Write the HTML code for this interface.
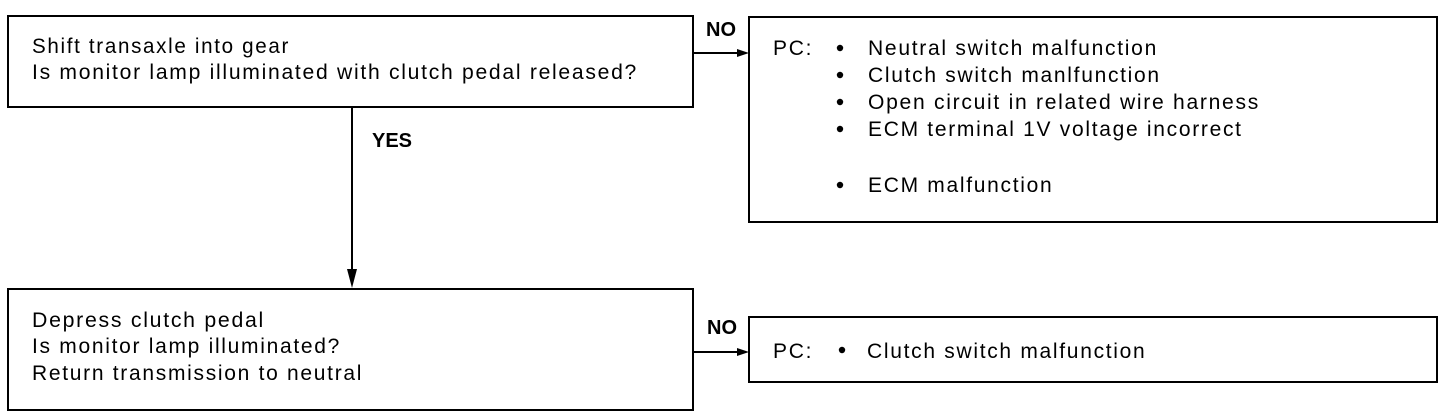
<!DOCTYPE html>
<html><head><meta charset="utf-8"><style>
html,body{margin:0;padding:0;background:#fff;}
svg{display:block;}
text{font-family:"Liberation Sans",Arial,sans-serif;font-size:21px;fill:#000;letter-spacing:1.7px;}
.b{font-weight:bold;font-size:20px;letter-spacing:0;}
</style></head><body>
<svg width="1456" height="418" viewBox="0 0 1456 418" xmlns="http://www.w3.org/2000/svg">
<g fill="none" stroke="#000" stroke-width="2">
<rect x="8" y="16" width="685" height="91"/>
<rect x="749" y="17" width="688" height="205"/>
<rect x="8" y="289" width="685" height="121"/>
<rect x="749" y="317" width="688" height="65"/>
<line x1="693" y1="53" x2="742" y2="53"/>
<line x1="693" y1="352" x2="742" y2="352"/>
<line x1="352" y1="107" x2="352" y2="272"/>
</g>
<polygon points="737,49 749,53 737,57" fill="#000"/>
<polygon points="737,348 749,352 737,356" fill="#000"/>
<polygon points="347,269 357,269 352,288" fill="#000"/>

<text x="32" y="53" textLength="258" lengthAdjust="spacingAndGlyphs">Shift transaxle into gear</text>
<text x="32" y="79" textLength="606" lengthAdjust="spacingAndGlyphs">Is monitor lamp illuminated with clutch pedal released?</text>
<text class="b" x="706" y="36">NO</text>
<text class="b" x="372" y="147">YES</text>

<text x="773" y="55">PC:</text>
<g fill="#000">
<circle cx="840" cy="48" r="3.2"/>
<circle cx="840" cy="75" r="3.2"/>
<circle cx="840" cy="102" r="3.2"/>
<circle cx="840" cy="129" r="3.2"/>
<circle cx="840" cy="185" r="3.2"/>
<circle cx="842" cy="350" r="3.2"/>
</g>
<text x="868" y="55" textLength="290" lengthAdjust="spacingAndGlyphs">Neutral switch malfunction</text>
<text x="868" y="82">Clutch switch manlfunction</text>
<text x="868" y="109" textLength="392" lengthAdjust="spacingAndGlyphs">Open circuit in related wire harness</text>
<text x="868" y="136">ECM terminal 1V voltage incorrect</text>
<text x="868" y="192">ECM malfunction</text>

<text x="32" y="327" textLength="233" lengthAdjust="spacingAndGlyphs">Depress clutch pedal</text>
<text x="32" y="353">Is monitor lamp illuminated?</text>
<text x="32" y="380">Return transmission to neutral</text>
<text class="b" x="707" y="334">NO</text>

<text x="773" y="358">PC:</text>
<text x="867" y="358">Clutch switch malfunction</text>
</svg>
</body></html>
